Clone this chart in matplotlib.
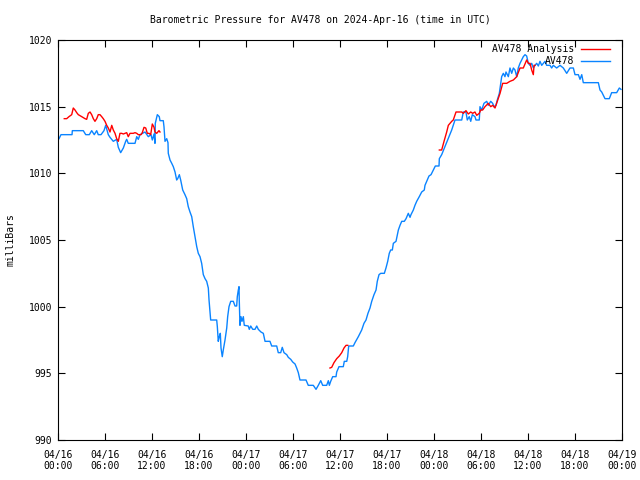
import numpy as np
import matplotlib
matplotlib.use("Agg")
import matplotlib.pyplot as plt
from matplotlib.lines import Line2D

# hours since 2024-04-16 00:00 UTC, pressure in mb
obs_hours = [0.13, 0.38, 1.79, 1.83, 3.23, 3.54, 4.0, 4.30, 4.63, 4.94, 5.14, 5.49, 5.87, 6.09, 6.42,
             6.64, 7.06, 7.49, 7.70, 8.00, 8.34, 8.64, 8.77, 8.97, 9.83, 10.05, 10.25, 10.47, 11.11,
             11.53, 11.87, 12.04, 12.26, 12.38, 12.42, 12.68, 12.93, 13.02, 13.44, 13.53, 13.66, 13.88,
             14.04, 14.08, 14.30, 14.52, 14.72, 14.94, 15.15, 15.28, 15.49, 15.66, 15.92, 16.21, 16.43,
             16.63, 16.85, 17.07, 17.27, 17.49, 17.71, 17.91, 18.13, 18.34, 18.55, 18.77, 18.98, 19.19,
             19.28, 19.40, 19.49, 20.26, 20.34, 20.46, 20.59, 20.72, 20.81, 20.97, 21.10, 21.32, 21.54,
             21.66, 21.83, 22.05, 22.38, 22.60, 22.81, 22.89, 23.02, 23.11, 23.14, 23.23, 23.36, 23.49,
             23.66, 23.78, 24.29, 24.42, 24.60, 24.86, 25.15, 25.37, 25.57, 25.91, 26.21, 26.43, 27.06,
             27.28, 27.92, 28.12, 28.43, 28.63, 28.85, 29.20, 29.40, 29.71, 29.96, 30.26, 30.47, 30.68,
             30.89, 31.66, 31.95, 32.59, 32.94, 33.23, 33.54, 33.79, 34.30, 34.51, 34.64, 34.81, 35.07,
             35.49, 35.58, 35.87, 36.42, 36.55, 36.86, 36.98, 37.11, 37.70, 37.91, 38.34, 38.77, 39.06,
             39.32, 39.57, 39.83, 40.05, 40.34, 40.60, 40.76, 40.98, 41.20, 41.66, 41.87, 42.09, 42.29,
             42.47, 42.68, 42.81, 43.15, 43.32, 43.45, 43.66, 43.88, 44.21, 44.43, 44.72, 44.94, 45.06,
             45.36, 45.57, 45.79, 46.12, 46.43, 46.76, 46.85, 47.07, 47.36, 47.62, 47.91, 48.17, 48.64,
             48.68, 48.98, 49.40, 49.83, 50.26, 50.46, 50.68, 51.54, 51.74, 52.08, 52.25, 52.50, 52.69,
             52.89, 53.23, 53.36, 53.78, 53.87, 54.09, 54.38, 54.73, 54.93, 55.24, 55.49, 55.66, 55.91,
             56.08, 56.34, 56.52, 56.64, 56.85, 57.06, 57.19, 57.49, 57.70, 57.92, 58.13, 58.34, 58.56,
             58.76, 58.98, 59.19, 59.40, 59.62, 59.83, 60.04, 60.26, 60.47, 60.68, 60.89, 61.11, 61.32,
             61.53, 61.75, 62.17, 62.38, 62.81, 63.02, 63.23, 63.66, 64.09, 64.51, 64.94, 65.36, 65.79,
             66.00, 66.43, 66.64, 66.86, 67.06, 68.98, 69.19, 69.41, 69.83, 70.38, 70.68, 71.32, 71.66,
             71.87]
obs_mb = [1012.6, 1012.9, 1012.9, 1013.2, 1013.2, 1012.9, 1012.9, 1013.2, 1012.9, 1013.2, 1012.9, 1012.9,
          1013.2, 1013.6, 1012.9, 1012.7, 1012.4, 1012.55, 1011.95, 1011.55, 1011.9, 1012.4, 1012.55,
          1012.25, 1012.25, 1012.75, 1012.55, 1012.9, 1013.1, 1012.75, 1012.9, 1012.5, 1012.95, 1012.25,
          1013.75, 1014.4, 1014.25, 1013.95, 1013.95, 1013.5, 1012.4, 1012.6, 1012.3, 1011.5, 1011.0,
          1010.75, 1010.5, 1010.1, 1009.5, 1009.6, 1009.9, 1009.5, 1008.75, 1008.4, 1008.1, 1007.5,
          1007.1, 1006.75, 1006.0, 1005.25, 1004.5, 1004.0, 1003.75, 1003.25, 1002.4, 1002.1, 1001.9,
          1001.4, 1000.5, 999.6, 999.0, 999.0, 998.5, 997.4, 997.75, 998.0, 996.9, 996.25, 996.75, 997.5,
          998.4, 999.25, 1000.0, 1000.4, 1000.4, 1000.05, 1000.05, 1000.75, 1001.25, 1001.5, 1000.5,
          998.6, 999.25, 998.9, 999.25, 998.6, 998.55, 998.3, 998.55, 998.3, 998.3, 998.55, 998.3, 998.1,
          998.0, 997.4, 997.4, 997.05, 997.05, 996.55, 996.55, 996.95, 996.55, 996.4, 996.2, 996.05,
          995.85, 995.7, 995.4, 995.05, 994.5, 994.5, 994.1, 994.1, 993.8, 994.1, 994.45, 994.1, 994.1,
          994.45, 994.1, 994.4, 994.75, 994.75, 995.1, 995.5, 995.5, 995.9, 995.9, 996.25, 997.05, 997.05,
          997.3, 997.75, 998.25, 998.75, 999.0, 999.5, 999.9, 1000.4, 1000.9, 1001.25, 1001.9, 1002.4,
          1002.5, 1002.5, 1002.9, 1003.4, 1004.0, 1004.25, 1004.25, 1004.75, 1004.9, 1005.4, 1005.75,
          1006.1, 1006.4, 1006.4, 1006.6, 1007.0, 1006.7, 1006.9, 1007.25, 1007.6, 1007.9, 1008.25,
          1008.6, 1008.75, 1009.1, 1009.4, 1009.8, 1009.9, 1010.25, 1010.55, 1010.55, 1011.1, 1011.4,
          1012.0, 1012.6, 1013.25, 1013.6, 1014.0, 1014.0, 1014.6, 1014.6, 1014.0, 1014.25, 1013.9,
          1014.4, 1014.25, 1014.0, 1014.0, 1015.0, 1014.75, 1015.25, 1015.4, 1015.1, 1015.4, 1015.25,
          1015.0, 1015.1, 1015.5, 1016.0, 1016.75, 1017.25, 1017.5, 1017.25, 1017.6, 1017.25, 1017.9,
          1017.5, 1017.9, 1017.75, 1017.25, 1017.9, 1018.25, 1018.5, 1018.75, 1018.9, 1018.8, 1018.25,
          1018.1, 1018.25, 1017.9, 1018.1, 1018.25, 1018.05, 1018.4, 1018.1, 1018.4, 1018.1, 1018.1,
          1017.9, 1018.1, 1017.9, 1018.1, 1017.9, 1017.5, 1017.9, 1017.9, 1017.4, 1017.4, 1017.05,
          1017.4, 1016.8, 1016.8, 1016.25, 1016.1, 1015.6, 1015.6, 1016.05, 1016.05, 1016.4, 1016.3]

ana_hours = [0.80, 1.11, 1.40, 1.75, 1.95, 2.17, 2.39, 2.59, 3.03, 3.45, 3.66, 3.87, 4.09, 4.30, 4.51,
             4.72, 4.94, 5.14, 5.36, 5.58, 5.78, 6.00, 6.22, 6.42, 6.64, 6.86, 7.06, 7.28, 7.49, 7.70,
             7.91, 8.13, 8.34, 8.55, 8.77, 8.97, 9.19, 9.61, 9.83, 10.05, 10.25, 10.60, 10.76, 10.98,
             11.20, 11.40, 11.62, 11.83, 12.04, 12.26, 12.38, 12.60, 12.89, 13.02,
             np.nan,
             34.72, 34.94, 35.23, 35.58, 35.91, 36.22, 36.51, 36.77, 36.98,
             np.nan,
             48.68, 48.98, 49.28, 49.62, 49.83, 50.26, 50.46, 50.81, 51.54, 51.74, 52.08, 52.38, 52.69,
             52.94, 53.23, 53.45, 53.78, 53.96, 54.21, 54.51, 54.93, 55.24, 55.49, 55.79, 56.08, 56.43,
             56.77, 57.28, 57.70, 58.13, 58.56, 58.98, 59.40, 59.83, 60.04, 60.26, 60.47, 60.68, 60.77,
             60.89]
ana_mb = [1014.1, 1014.1, 1014.25, 1014.4, 1014.9, 1014.75, 1014.55, 1014.4, 1014.25, 1014.1, 1014.05,
          1014.5, 1014.6, 1014.4, 1014.1, 1013.9, 1014.1, 1014.4, 1014.4, 1014.25, 1014.1, 1013.9, 1013.6,
          1013.4, 1013.1, 1013.6, 1013.25, 1013.0, 1012.6, 1012.4, 1013.0, 1013.0, 1012.95, 1013.0,
          1013.05, 1012.75, 1013.0, 1013.0, 1013.05, 1013.0, 1012.9, 1012.9, 1013.05, 1013.45, 1013.4,
          1013.0, 1013.0, 1012.9, 1013.7, 1013.45, 1013.1, 1013.0, 1013.2, 1013.1,
          np.nan,
          995.4, 995.45, 995.8, 996.1, 996.3, 996.55, 996.9, 997.1, 997.1,
          np.nan,
          1011.75, 1011.75, 1012.4, 1013.1, 1013.6, 1013.9, 1014.0, 1014.6, 1014.6, 1014.5, 1014.7,
          1014.45, 1014.6, 1014.5, 1014.6, 1014.35, 1014.5, 1014.75, 1014.75, 1015.0, 1015.25, 1015.0,
          1015.1, 1014.9, 1015.4, 1016.0, 1016.75, 1016.75, 1016.9, 1017.0, 1017.25, 1017.9, 1017.9,
          1018.5, 1018.25, 1018.25, 1017.75, 1017.4, 1018.1, 1018.1]

xtick_hours = [0, 6, 12, 18, 24, 30, 36, 42, 48, 54, 60, 66, 72]
xtick_labels = ["04/16\n00:00", "04/16\n06:00", "04/16\n12:00", "04/16\n18:00",
                "04/17\n00:00", "04/17\n06:00", "04/17\n12:00", "04/17\n18:00",
                "04/18\n00:00", "04/18\n06:00", "04/18\n12:00", "04/18\n18:00",
                "04/19\n00:00"]
ytick_vals = [990, 995, 1000, 1005, 1010, 1015, 1020]

RED = "#ff0000"
BLUE = "#0a84ff"
FONT = "DejaVu Sans Mono"
FS = 7.0

fig = plt.figure(figsize=(6.4, 4.8), dpi=100)
ax = fig.add_axes([58 / 640, 1 - 440 / 480, (622 - 58) / 640, 400 / 480])

ax.plot(obs_hours, obs_mb, color=BLUE, lw=1.0)
ax.plot(ana_hours, ana_mb, color=RED, lw=1.0)

ax.set_xlim(0, 72)
ax.set_ylim(990, 1020)
ax.set_xticks(xtick_hours)
ax.set_xticklabels(xtick_labels, fontfamily=FONT, fontsize=FS, linespacing=1.05)
ax.set_yticks(ytick_vals)
ax.set_yticklabels([str(v) for v in ytick_vals], fontfamily=FONT, fontsize=FS)
ax.tick_params(direction="in", length=5, width=0.8, top=True, right=True, pad=4)
ax.tick_params(axis="x", pad=7.5)
for s in ax.spines.values():
    s.set_linewidth(0.8)

ax.set_ylabel("milliBars", fontfamily=FONT, fontsize=FS, labelpad=10)
fig.text(0.5, 1 - 20 / 480, "Barometric Pressure for AV478 on 2024-Apr-16 (time in UTC)",
         ha="center", va="center", fontfamily=FONT, fontsize=FS)

# legend (gnuplot style: text right aligned, sample line to the right)
tr = ax.transAxes
lx_text = (574 - 58) / 564
lx0 = (581 - 58) / 564
lx1 = (610 - 58) / 564
for i, (lab, col) in enumerate([("AV478 Analysis", RED), ("AV478", BLUE)]):
    yy = 1 - (49 + 12.5 * i - 40) / 400
    ax.text(lx_text, yy, lab, transform=tr, ha="right", va="center",
            fontfamily=FONT, fontsize=FS)
    ax.add_line(Line2D([lx0, lx1], [yy, yy], transform=tr, color=col, lw=1.0))

fig.savefig("out.png", dpi=100)
